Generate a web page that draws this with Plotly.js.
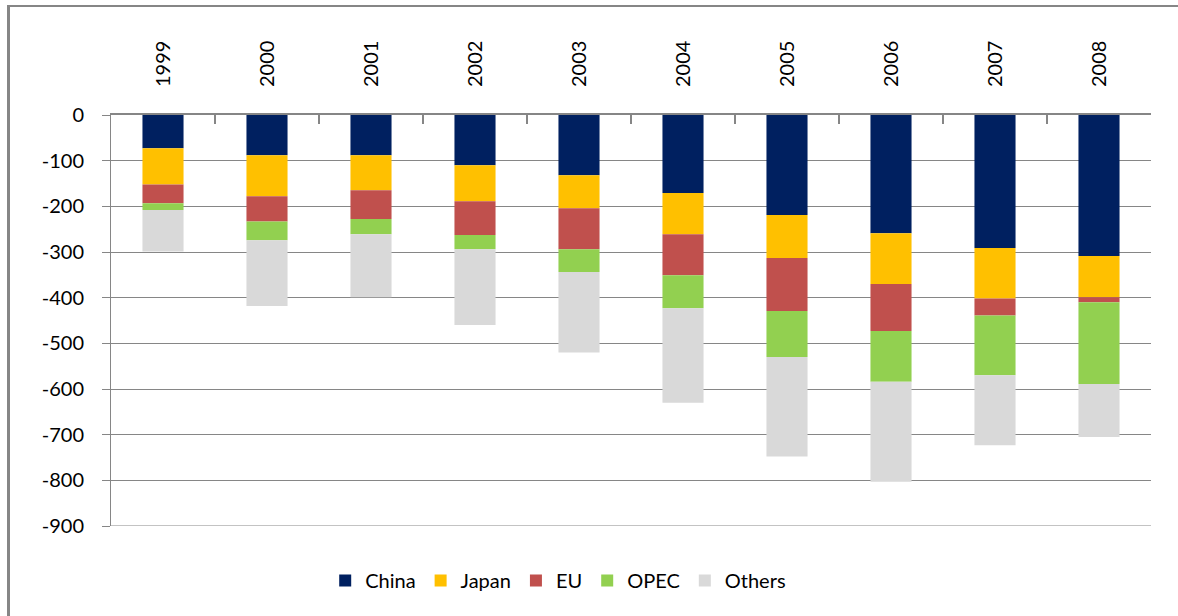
<!DOCTYPE html>
<html>
<head>
<meta charset="utf-8">
<script src="https://cdn.plot.ly/plotly-3.0.1.min.js"></script>
<style>
  html, body { margin: 0; padding: 0; background: #fff; }
  #wrap { position: relative; width: 1178px; height: 616px; overflow: hidden; }
  #chart { width: 1178px; height: 616px; }
  #frame { position: absolute; left: 7px; top: 5px; width: 1171px; height: 611px;
           border-left: 3px solid #868686; border-top: 2px solid #868686; pointer-events: none; box-sizing: border-box; }
</style>
</head>
<body>
<div id="wrap">
  <div id="chart"></div>
  <div id="frame"></div>
</div>
<script>
const years = ['1999','2000','2001','2002','2003','2004','2005','2006','2007','2008'];
const china  = [-73, -88, -88, -110, -132, -171, -219, -259, -291, -309];
const japan  = [-79, -90, -77, -79, -72, -90, -94, -111, -111, -90];
const eu     = [-41, -55, -63, -74, -90, -90, -116, -103, -37, -11];
const opec   = [-15, -41, -33, -31, -50, -72, -101, -111, -131, -179];
const others = [-91, -144, -138, -166, -176, -207, -218, -219, -153, -116];
const yTicks = [0, -100, -200, -300, -400, -500, -600, -700, -800, -900];

const seriesNames = ['China', 'Japan', 'EU', 'OPEC', 'Others'];
const seriesValues = [china, japan, eu, opec, others];
const seriesColors = ['#002060', '#FFC000', '#C0504D', '#92D050', '#D9D9D9'];

const traces = seriesNames.map((name, i) => ({
  type: 'bar',
  name: name,
  x: years,
  y: seriesValues[i],
  marker: { color: seriesColors[i], line: { width: 0 } },
  hoverinfo: 'x+y+name'
}));

const font = { family: 'Lato, "Open Sans", sans-serif', size: 20, color: '#000' };
const axisMin = yTicks[yTicks.length - 1];

const layout = {
  width: 1178,
  height: 616,
  margin: { l: 111, r: 27, t: 115, b: 90 },
  paper_bgcolor: '#fff',
  plot_bgcolor: '#fff',
  barmode: 'relative',
  bargap: 0.605,
  font: font,
  showlegend: true,
  legend: {
    orientation: 'h',
    x: 0.43, xanchor: 'center',
    y: -0.085, yanchor: 'top',
    traceorder: 'normal',
    font: font,
    itemwidth: 30
  },
  shapes: [{
    type: 'line', xref: 'paper', yref: 'y',
    x0: 0, x1: 1, y0: axisMin, y1: axisMin,
    line: { color: '#868686', width: 1 }
  }],
  xaxis: {
    type: 'category',
    side: 'top',
    tickangle: -90,
    showline: true,
    linecolor: '#868686',
    linewidth: 2,
    ticks: 'inside',
    tickson: 'boundaries',
    ticklen: 9,
    tickcolor: '#868686',
    tickwidth: 2,
    showgrid: false,
    ticklabelstandoff: 22,
    tickfont: font,
    fixedrange: true
  },
  yaxis: {
    range: [axisMin, 0],
    tickvals: yTicks,
    ticktext: yTicks.map(String),
    showline: true,
    linecolor: '#868686',
    linewidth: 1,
    ticks: 'outside',
    ticklen: 8,
    tickcolor: '#868686',
    showgrid: true,
    gridcolor: '#868686',
    gridwidth: 1,
    zeroline: false,
    ticklabelstandoff: 14,
    tickfont: font,
    fixedrange: true
  }
};

Plotly.newPlot('chart', traces, layout, { displayModeBar: false, staticPlot: true });
</script>
</body>
</html>
